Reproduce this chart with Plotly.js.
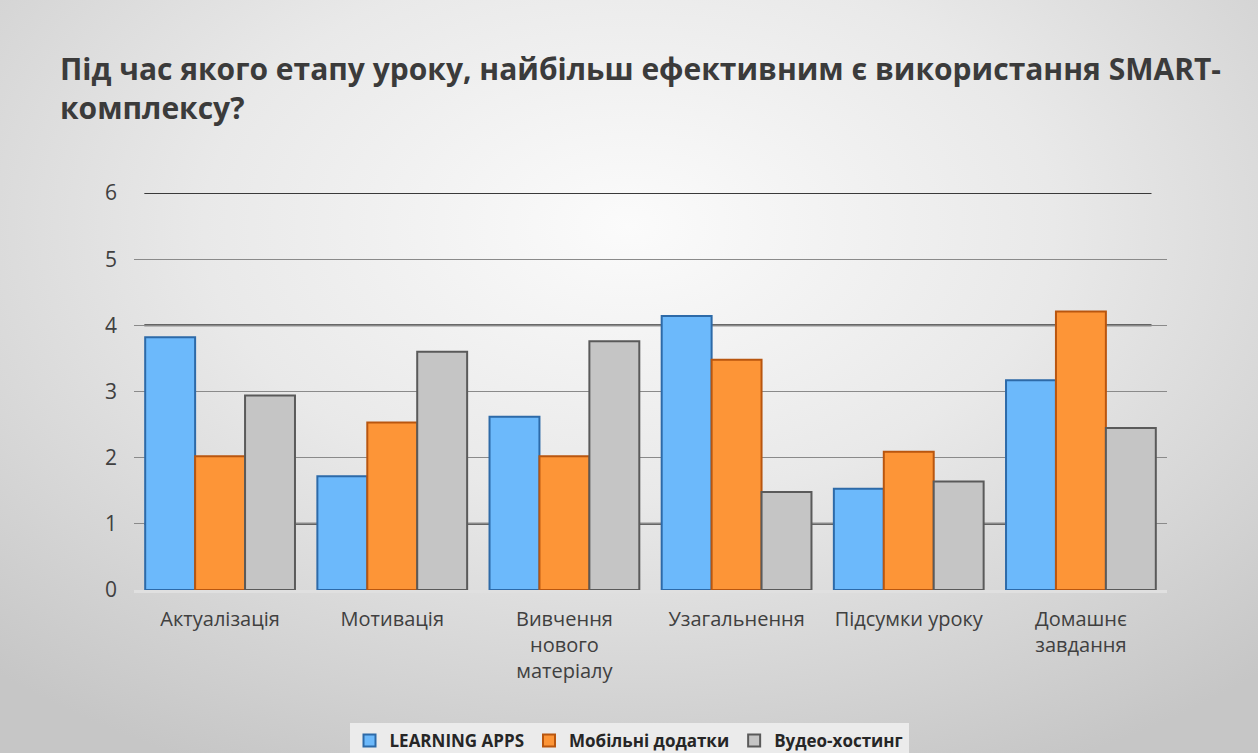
<!DOCTYPE html>
<html><head><meta charset="utf-8">
<script src="https://cdn.plot.ly/plotly-3.0.1.min.js"></script>
<style>
html,body{margin:0;padding:0;}
body{width:1258px;height:753px;background:radial-gradient(ellipse 75% 80% at 50% 30%, #fbfbfb 0%, #e9e9e9 45%, #c6c6c6 100%);}
#chart{width:1258px;height:753px;}
</style></head>
<body><div id="chart"></div>
<script>
const categories = ["Актуалізація", "Мотивація", "Вивчення<br>нового<br>матеріалу", "Узагальнення", "Підсумки уроку", "Домашнє<br>завдання"];
const learningApps = [3.82, 1.72, 2.62, 4.14, 1.53, 3.17];
const mobileApps = [2.02, 2.53, 2.02, 3.48, 2.09, 4.21];
const videoHosting = [2.94, 3.6, 3.76, 1.48, 1.64, 2.45];
const seriesNames = ["LEARNING APPS", "Мобільні додатки", "Вудео-хостинг"];
const yTicks = [0, 1, 2, 3, 4, 5, 6];

const fills = ["#6cb9fb", "#fd9537", "#c5c5c5"];
const edges = ["#2d6aa8", "#b9560f", "#5a5a5a"];
const data = [learningApps, mobileApps, videoHosting].map((vals, i) => ({
  type: "bar", x: categories, y: vals, name: seriesNames[i],
  marker: {color: fills[i], line: {color: edges[i], width: 2}},
  hoverinfo: "x+y"
}));

const darkLines = [1, 4, 6].map(v => ({
  type: "line", xref: "paper", yref: "y", x0: 0.01, x1: 0.985, y0: v, y1: v,
  line: {color: "#3a3a3a", width: 2}, layer: "below"
}));

const layout = {
  width: 1258, height: 753,
  paper_bgcolor: "rgba(0,0,0,0)", plot_bgcolor: "rgba(0,0,0,0)",
  margin: {l: 134, r: 91, t: 193, b: 163, autoexpand: false},
  font: {family: "Open Sans, sans-serif", color: "#404040"},
  title: {
    text: "<b>Під час якого етапу уроку, найбільш ефективним є використання SMART-<br>комплексу?</b>",
    x: 60 / 1258, xref: "container", xanchor: "left",
    y: 1 - 80 / 753, yref: "container", yanchor: "middle",
    font: {family: "Open Sans, sans-serif", size: 30, color: "#3b3b3b"}
  },
  barmode: "group", bargap: 0.13, bargroupgap: 0,
  xaxis: {
    automargin: false,
    showgrid: false, showline: true, linecolor: "#e0e0e0", linewidth: 3,
    tickfont: {size: 20, color: "#404040"}, ticks: "", ticklabelstandoff: 9
  },
  yaxis: {
    automargin: false,
    range: [0, 6], tickvals: yTicks, showgrid: true, gridcolor: "#8a8a8a", gridwidth: 1,
    zeroline: false, showline: false, ticks: "",
    tickfont: {size: 21, color: "#404040"}, ticklabelstandoff: 16
  },
  shapes: darkLines,
  legend: {
    orientation: "h", x: 0.5, xref: "container", xanchor: "center",
    y: 1 - 741 / 753, yref: "container", yanchor: "middle",
    bgcolor: "#ebebeb", font: {size: 17, color: "#262626", family: "Open Sans, sans-serif", weight: 700},
    itemwidth: 30, traceorder: "normal"
  },
  showlegend: true
};

Plotly.newPlot("chart", data, layout, {displayModeBar: false, responsive: false});
</script></body></html>
